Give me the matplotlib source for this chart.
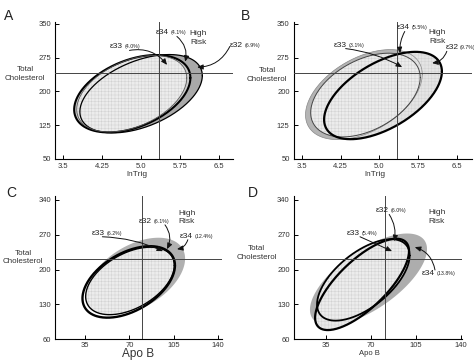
import numpy as np
import matplotlib
matplotlib.use("Agg")
import matplotlib.pyplot as plt

plt.rcParams['font.family'] = ['Liberation Sans', 'DejaVu Sans']
plt.rcParams['hatch.linewidth'] = 0.35

# ellipse parameters, order: e32, e33, e34
A_mx = [5.0, 4.82, 4.83]
A_sx = [1.18, 1.06, 1.12]
A_my = [195, 195, 195]
A_sy = [87, 85, 86]
A_r = [0.46, 0.41, 0.41]

B_mx = [5.07, 4.73, 4.70]
B_sx = [1.14, 1.06, 1.13]
B_my = [191, 192, 193]
B_sy = [97, 93, 100]
B_r = [0.55, 0.42, 0.45]

C_mx = [69.5, 70.5, 75]
C_sx = [36.5, 35, 39]
C_my = [175, 177, 186]
C_sy = [72, 68, 78]
C_r = [0.46, 0.46, 0.46]

D_mx = [63, 64, 68]
D_sx = [36.5, 36, 45.5]
D_my = [170, 179, 180]
D_sy = [92, 82, 92.5]
D_r = [0.73, 0.6, 0.66]

# cut-off lines
A_cut = (5.35, 240)
B_cut = (5.35, 240)
C_cut = (80, 222)
D_cut = (81, 222)

trig_ticks = [3.5, 4.25, 5.0, 5.75, 6.5]
chol_ticks_ab = [50, 125, 200, 275, 350]
apob_ticks = [35, 70, 105, 140]
chol_ticks_cd = [60, 130, 200, 270, 340]

# labels: name, percent, text position, arrow target
A_names = ["ε33", "ε34", "ε32"]
A_pct = ["(4.0%)", "(4.1%)", "(6.9%)"]
A_tx = [4.40, 5.29, 6.71]
A_ty = [299, 330, 303]
A_px = [5.5, 5.85, 6.08]
A_py = [259, 266, 254]

B_names = ["ε33", "ε34", "ε32"]
B_pct = ["(3.1%)", "(5.5%)", "(9.7%)"]
B_tx = [4.12, 5.34, 6.28]
B_ty = [303, 341, 297]
B_px = [5.44, 5.40, 6.02]
B_py = [254, 285, 263]

C_names = ["ε33", "ε32", "ε34"]
C_pct = ["(6.2%)", "(6.1%)", "(12.4%)"]
C_tx = [40.5, 77.6, 110]
C_ty = [273, 297, 267]
C_px = [96.6, 99.7, 107.6]
C_py = [237, 241, 241]

D_names = ["ε32", "ε33", "ε34"]
D_pct = ["(6.0%)", "(5.4%)", "(13.8%)"]
D_tx = [74, 51.3, 109.6]
D_ty = [318, 273, 192]
D_px = [88, 86.3, 104]
D_py = [257, 237, 245]


def ell(mx, sx, my, sy, r):
    t = np.linspace(0, 2 * np.pi, 300)
    x = mx + sx * np.cos(t)
    y = my + sy * (r * np.cos(t) + np.sqrt(1 - r * r) * np.sin(t))
    return x, y


def shade(ax, p, fc, hatch=None, hc="#d2d2d2"):
    x, y = p
    ax.fill(x, y, facecolor=fc, edgecolor=hc if hatch else fc, lw=0, hatch=hatch)


def outline(ax, p, lw, c="black"):
    ax.plot(p[0], p[1], color=c, lw=lw, solid_capstyle="round")


def setup(ax, xlim, ylim, xt, yt, xlab, cut, xlab_size, xlab_pos, ylab_pos):
    ax.set_xlim(*xlim)
    ax.set_ylim(*ylim)
    ax.set_xticks(xt)
    ax.set_yticks(yt)
    ax.set_xticklabels([str(v) for v in xt])
    ax.tick_params(direction="in", length=3, width=0.7, labelsize=5.5,
                   labelcolor="#333333", pad=3)
    for s in ["top", "right"]:
        ax.spines[s].set_visible(False)
    for s in ["left", "bottom"]:
        ax.spines[s].set_linewidth(0.8)
    ax.axvline(cut[0], color="#444444", lw=0.7, zorder=5)
    ax.axhline(cut[1], color="#444444", lw=0.7, zorder=5)
    ax.set_xlabel(xlab, fontsize=xlab_size, color="#333333")
    ax.xaxis.set_label_coords(*xlab_pos)
    ax.text(ylab_pos[0], ylab_pos[1], "Total\nCholesterol", transform=ax.transAxes,
            ha="center", va="center", fontsize=5.8, color="#333333", linespacing=1.3)
    ax.set_facecolor("none")


def labels(ax, names, pct, tx, ty, px, py, rads, starts, fs=6):
    for n, p, x0, y0, x1, y1, rad, st in zip(names, pct, tx, ty, px, py, rads, starts):
        t = ax.text(x0, y0, n, fontsize=fs, va="center", ha="left",
                    color="#222222", zorder=8)
        ax.annotate(p, xy=(1, 0.5), xycoords=t, xytext=(1.0, 0), textcoords="offset points",
                    fontsize=3.8, va="center", ha="left", color="#222222", zorder=8)
        ax.annotate("", xy=(x1, y1), xycoords="data", xytext=st, textcoords=t,
                    annotation_clip=False, zorder=8,
                    arrowprops=dict(arrowstyle="-|>,head_length=0.35,head_width=0.15",
                                    connectionstyle="arc3,rad=%s" % rad,
                                    lw=0.7, color="#111111", shrinkA=0, shrinkB=0))


def risk(ax, x, y):
    ax.text(x, y, "High\nRisk", fontsize=6, ha="center", va="center",
            color="#333333", linespacing=1.3)


fig = plt.figure(figsize=(4.74, 3.62), dpi=100)

# ---- A
ax = fig.add_axes([0.1165, 0.5608, 0.376, 0.3793])
e = [ell(A_mx[i], A_sx[i], A_my[i], A_sy[i], A_r[i]) for i in range(3)]
shade(ax, e[0], "#a9a9a9")
outline(ax, e[0], 0.9)
shade(ax, e[2], "#cbcbcb")
shade(ax, e[1], "#ececec", "+++++")
outline(ax, e[2], 1.5)
outline(ax, e[1], 0.6, "#555555")
setup(ax, (3.345, 6.78), (50, 355), trig_ticks, chol_ticks_ab, "lnTrig", A_cut,
      6, (0.46, -0.09), (-0.17, 0.62))
labels(ax, A_names, A_pct, A_tx, A_ty, A_px, A_py, [-0.3, -0.3, -0.3],
       [(1.5, 0), (1.6, 0), (0, 0.3)])
risk(ax, 6.1, 319)

# ---- B
ax = fig.add_axes([0.620, 0.5608, 0.3755, 0.3793])
e = [ell(B_mx[i], B_sx[i], B_my[i], B_sy[i], B_r[i]) for i in range(3)]
shade(ax, e[2], "#b4b4b4")
shade(ax, e[0], "#e4e4e4", "+++++")
shade(ax, e[1], "#ececec", "+++++")
outline(ax, e[2], 0.5, "#888888")
outline(ax, e[1], 0.7, "#444444")
outline(ax, e[0], 1.6)
setup(ax, (3.345, 6.79), (50, 355), trig_ticks, chol_ticks_ab, "lnTrig", B_cut,
      6, (0.455, -0.09), (-0.15, 0.61))
labels(ax, B_names, B_pct, B_tx, B_ty, B_px, B_py, [-0.1, 0.15, -0.3],
       [(0.9, 0), (0.6, 0), (0.1, 0)])
risk(ax, 6.12, 321)

# ---- C
ax = fig.add_axes([0.116, 0.0635, 0.352, 0.395])
e = [ell(C_mx[i], C_sx[i], C_my[i], C_sy[i], C_r[i]) for i in range(3)]
shade(ax, e[2], "#b0b0b0")
shade(ax, e[0], "white")
outline(ax, e[0], 1.7)
shade(ax, e[1], "#ececec", "+++++")
outline(ax, e[1], 1.0)
setup(ax, (11.3, 143), (60, 348), apob_ticks, chol_ticks_cd, "Apo B", C_cut,
      8.5, (0.50, -0.065), (-0.19, 0.57))
ax.tick_params(axis="x", pad=2)
labels(ax, C_names, C_pct, C_tx, C_ty, C_px, C_py, [-0.1, -0.3, -0.3],
       [(0.8, 0), (2.0, 0), (0.6, 0)])
risk(ax, 115.5, 305)

# ---- D
ax = fig.add_axes([0.620, 0.0635, 0.3555, 0.395])
e = [ell(D_mx[i], D_sx[i], D_my[i], D_sy[i], D_r[i]) for i in range(3)]
shade(ax, e[2], "#adadad")
shade(ax, e[0], "#e8e8e8", "+++++")
shade(ax, e[1], "#ececec", "+++++")
outline(ax, e[1], 1.3)
outline(ax, e[0], 1.6)
setup(ax, (10, 141), (60, 348), apob_ticks, chol_ticks_cd, "Apo B", D_cut,
      5.5, (0.45, -0.075), (-0.22, 0.60))
ax.tick_params(axis="x", pad=2)
labels(ax, D_names, D_pct, D_tx, D_ty, D_px, D_py, [-0.2, 0.0, 0.3],
       [(1.0, 0), (1.0, 0), (1.0, 1.0)])
risk(ax, 121, 306)

for s, x, y in [("A", 0.008, 0.975), ("B", 0.508, 0.975), ("C", 0.014, 0.485), ("D", 0.523, 0.485)]:
    fig.text(x, y, s, fontsize=10, ha="left", va="top", color="#222222")

fig.savefig("out.png", dpi=100, facecolor="white")
